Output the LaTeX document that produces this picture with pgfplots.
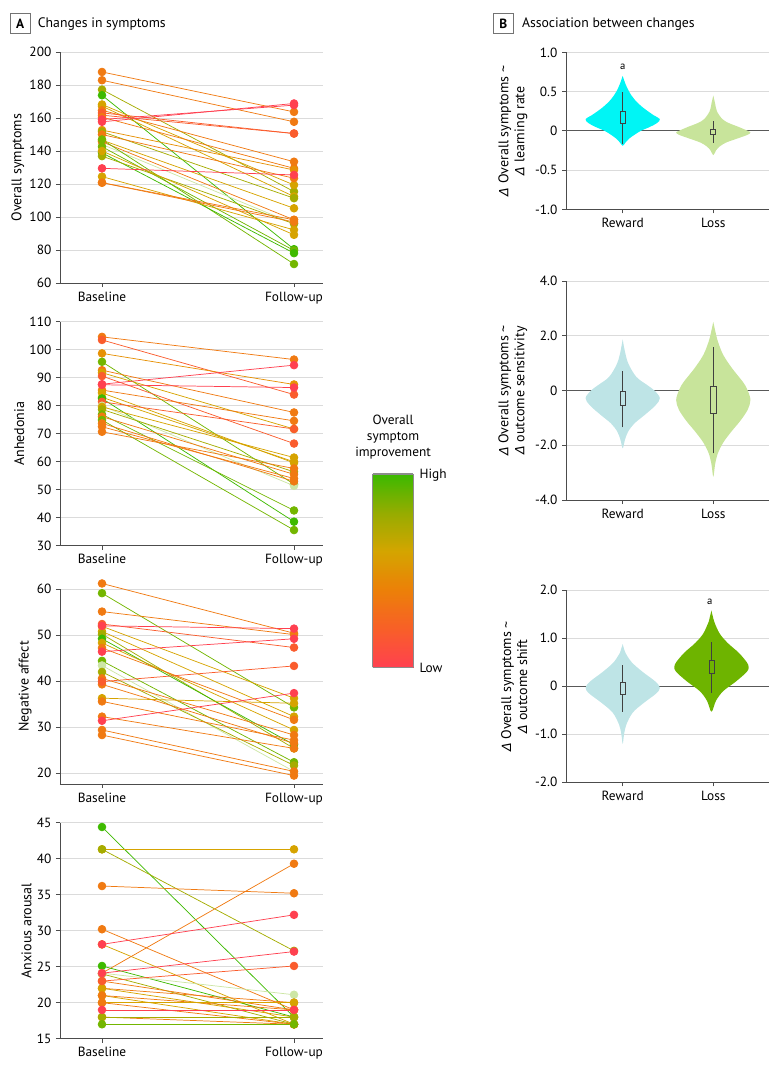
\documentclass[border=0pt]{standalone}
\usepackage{pgfplots}
\pgfplotsset{compat=1.18}
\usepackage{fontspec}
\setmainfont{PT Sans}
\newfontfamily\dvs{DejaVu Sans}
\newcommand\D{{\dvs\itshape\fontsize{9.5}{11}\selectfont Δ}}
\definecolor{cR}{RGB}{255,64,80}
\definecolor{cRO}{RGB}{250,92,45}
\definecolor{cO}{RGB}{240,122,18}
\definecolor{cOG}{RGB}{230,145,5}
\definecolor{cG}{RGB}{214,163,0}
\definecolor{cOl}{RGB}{165,172,0}
\definecolor{cL}{RGB}{115,182,0}
\definecolor{cGr}{RGB}{62,186,0}
\definecolor{cP}{RGB}{205,230,165}
\definecolor{vCyan}{RGB}{0,245,245}
\definecolor{vBlue}{RGB}{190,228,230}
\definecolor{vLG}{RGB}{200,228,155}
\definecolor{vGreen}{RGB}{110,180,0}
\newcommand\pr[3]{\addplot[color=#1, line width=0.55pt, mark=*, mark size=2.9pt, mark options={draw=none, fill=#1}] coordinates {(0,#2) (1,#3)};}
\pgfplotsset{
  common/.style={
    scale only axis, anchor=south west,
    axis x line*=bottom, axis y line*=left,
    axis line style={-, draw=black!70, line width=0.6pt},
    tick style={draw=black!70, line width=0.6pt},
    tick align=outside, major tick length=3pt,
    ymajorgrids, grid style={draw=black!14, line width=0.7pt},
    tick label style={font=\fontsize{10}{12}\selectfont},
    label style={font=\fontsize{10.5}{12}\selectfont},
    /pgf/number format/assume math mode=true,
    clip=false,
  },
  Astyle/.style={common, width=197.25pt,
    xmin=-0.21875, xmax=1.151, ylabel shift=-3pt,
    xtick={0,1}, xticklabels={Baseline,Follow-up}},
  Bstyle/.style={common, width=152.25pt,
    xmin=-0.626, xmax=1.615,
    xtick={0,1}, xticklabels={Reward,Loss},
    ylabel style={align=center}, ylabel shift=-7pt,
    extra y ticks={0}, extra y tick labels={0},
    extra y tick style={major grid style={draw=black!65, line width=0.8pt}}},
  colormap={improve}{rgb255=(255,64,80) rgb255=(248,95,40) rgb255=(236,128,8) rgb255=(212,165,0) rgb255=(150,172,0) rgb255=(60,185,0)},
}
\begin{document}
\begin{tikzpicture}
\path[use as bounding box] (0,0) rectangle (585pt,-804pt);
% panel titles
\node[draw=black!55, line width=0.6pt, minimum width=15pt, minimum height=15pt, inner sep=0pt, font=\bfseries\fontsize{10}{12}\selectfont] at (15.2pt,-17.5pt) {A};
\node[anchor=west, inner sep=0pt, font=\fontsize{10.3}{12}\selectfont] at (28.2pt,-18pt) {Changes in symptoms};
\node[draw=black!55, line width=0.6pt, minimum width=15pt, minimum height=15pt, inner sep=0pt, font=\bfseries\fontsize{10}{12}\selectfont] at (377.5pt,-17.8pt) {B};
\node[anchor=west, inner sep=0pt, font=\fontsize{10.3}{12}\selectfont] at (391.3pt,-18pt) {Association between changes};

% ---------- A1 Overall symptoms
\begin{axis}[Astyle, at={(45pt,-212.25pt)}, height=173.25pt,
  ymin=60, ymax=200, ytick={60,80,...,200}, ylabel={Overall symptoms}]
\pr{cO}{187.9}{163.7}
\pr{cO}{182.9}{157.7}
\pr{cOl}{177.2}{115.4}
\pr{cGr}{173.8}{80.5}
\pr{cG}{168.2}{119.4}
\pr{cG}{167.2}{112.4}
\pr{cO}{164.7}{133.5}
\pr{cRO}{163.1}{150.6}
\pr{cRO}{161.7}{150.6}
\pr{cO}{160.5}{129.5}
\pr{cOG}{152.7}{128.5}
\pr{cOl}{151.7}{111.4}
\pr{cO}{150.0}{123.5}
\pr{cP}{144.0}{95.9}
\pr{cG}{146.6}{105.3}
\pr{cO}{145.6}{98.3}
\pr{cL}{147.0}{71.5}
\pr{cL}{142.6}{79.7}
\pr{cGr}{138.9}{78.1}
\pr{cOl}{136.9}{95.9}
\pr{cG}{140.0}{89.2}
\pr{cG}{124.5}{92.2}
\pr{cO}{120.8}{98.3}
\pr{cO}{120.8}{97.0}
\pr{cR}{129.5}{125.5}
\pr{cR}{159.1}{167.8}
\pr{cR}{157.7}{168.8}
\end{axis}

% ---------- A2 Anhedonia
\begin{axis}[Astyle, at={(45pt,-409.3pt)}, height=168pt,
  ymin=30, ymax=110, ytick={30,40,...,110}, ylabel={Anhedonia}]
\pr{cO}{104.6}{96.5}
\pr{cRO}{103.5}{84.0}
\pr{cOG}{98.7}{87.6}
\pr{cL}{95.7}{52.0}
\pr{cO}{92.7}{77.6}
\pr{cG}{91.8}{71.7}
\pr{cRO}{90.6}{66.5}
\pr{cO}{85.6}{74.6}
\pr{cG}{84.6}{59.6}
\pr{cG}{83.0}{60.0}
\pr{cGr}{82.6}{38.6}
\pr{cRO}{81.4}{71.7}
\pr{cP}{80.0}{51.4}
\pr{cG}{79.6}{61.5}
\pr{cOl}{78.7}{56.4}
\pr{cL}{76.9}{42.6}
\pr{cO}{76.1}{55.5}
\pr{cL}{74.9}{35.6}
\pr{cO}{73.7}{53.0}
\pr{cO}{72.5}{54.0}
\pr{cO}{70.7}{57.6}
\pr{cR}{87.5}{86.5}
\pr{cR}{87.7}{94.5}
\end{axis}

% ---------- A3 Negative affect
\begin{axis}[Astyle, at={(45pt,-588pt)}, height=146.25pt,
  ymin=17.67, ymax=60, ytick={20,30,...,60}, ylabel={Negative affect}]
\pr{cO}{61.2}{50.4}
\pr{cL}{59.1}{34.3}
\pr{cO}{55.1}{50.1}
\pr{cRO}{52.4}{47.3}
\pr{cG}{51.9}{36.3}
\pr{cG}{50.8}{32.3}
\pr{cOl}{50.2}{25.4}
\pr{cGr}{49.2}{26.2}
\pr{cG}{48.3}{29.4}
\pr{cO}{47.2}{31.6}
\pr{cL}{44.4}{22.4}
\pr{cP}{43.4}{20.4}
\pr{cOl}{42.0}{21.7}
\pr{cO}{40.6}{28.3}
\pr{cO}{39.3}{26.5}
\pr{cG}{36.3}{35.2}
\pr{cO}{35.6}{27.2}
\pr{cO}{32.3}{25.4}
\pr{cO}{29.4}{20.4}
\pr{cO}{28.3}{19.5}
\pr{cRO}{39.9}{43.3}
\pr{cR}{46.4}{49.2}
\pr{cR}{31.4}{37.4}
\pr{cR}{52.0}{51.4}
\end{axis}

% ---------- A4 Anxious arousal
\begin{axis}[Astyle, at={(45pt,-779pt)}, height=162pt,
  ymin=15, ymax=45, ytick={15,20,...,45}, ylabel={Anxious arousal}]
\pr{cGr}{44.4}{18.0}
\pr{cG}{41.3}{41.3}
\pr{cOl}{41.3}{27.2}
\pr{cO}{36.2}{35.2}
\pr{cO}{30.2}{19.0}
\pr{cG}{28.1}{17.0}
\pr{cO}{24.1}{39.3}
\pr{cGr}{25.1}{18.0}
\pr{cOl}{24.0}{17.0}
\pr{cP}{24.1}{21.1}
\pr{cO}{23.0}{19.0}
\pr{cO}{22.0}{20.0}
\pr{cG}{22.0}{18.0}
\pr{cG}{21.0}{17.0}
\pr{cO}{21.0}{19.0}
\pr{cG}{20.0}{20.0}
\pr{cO}{20.0}{17.0}
\pr{cO}{18.0}{17.0}
\pr{cOl}{18.0}{18.0}
\pr{cL}{17.0}{17.0}
\pr{cRO}{23.0}{25.1}
\pr{cR}{28.1}{32.2}
\pr{cR}{24.1}{27.1}
\pr{cR}{19.0}{19.0}
\end{axis}

% ---------- colour bar
\begin{axis}[at={(279.5pt,-500.5pt)}, anchor=south west, scale only axis,
  width=30.45pt, height=145pt, xmin=0, xmax=1, ymin=0, ymax=1,
  xtick=\empty, ytick=\empty, view={0}{90}, colormap name=improve,
  axis line style={draw=black!45, line width=0.8pt}]
\addplot3[surf, shader=interp, mesh/cols=2, point meta=y] coordinates {
(0,0,0) (1,0,0) (0,0.05,0.05) (1,0.05,0.05) (0,0.1,0.1) (1,0.1,0.1)
(0,0.15,0.15) (1,0.15,0.15) (0,0.2,0.2) (1,0.2,0.2) (0,0.25,0.25) (1,0.25,0.25)
(0,0.3,0.3) (1,0.3,0.3) (0,0.35,0.35) (1,0.35,0.35) (0,0.4,0.4) (1,0.4,0.4)
(0,0.45,0.45) (1,0.45,0.45) (0,0.5,0.5) (1,0.5,0.5) (0,0.55,0.55) (1,0.55,0.55)
(0,0.6,0.6) (1,0.6,0.6) (0,0.65,0.65) (1,0.65,0.65) (0,0.7,0.7) (1,0.7,0.7)
(0,0.75,0.75) (1,0.75,0.75) (0,0.8,0.8) (1,0.8,0.8) (0,0.85,0.85) (1,0.85,0.85)
(0,0.9,0.9) (1,0.9,0.9) (0,0.95,0.95) (1,0.95,0.95) (0,1,1) (1,1,1)};
\end{axis}
\node[align=center, font=\fontsize{10}{12}\selectfont] at (294.8pt,-328pt) {Overall\\symptom\\improvement};
\node[anchor=west, inner sep=0pt, font=\fontsize{10}{12}\selectfont] at (314.5pt,-356.5pt) {High};
\node[anchor=west, inner sep=0pt, font=\fontsize{10}{12}\selectfont] at (314.5pt,-501pt) {Low};

% ---------- B1 learning rate
\begin{axis}[Bstyle, at={(424.5pt,-157pt)}, height=117.75pt,
  ymin=-1, ymax=1, ytick={-1,-0.5,0.5,1}, yticklabels={-1.0,-0.5,0.5,1.0},
  ylabel={\D\ Overall symptoms \textasciitilde\\\D\ learning rate}]
\addplot[fill=vCyan, draw=none, smooth, tension=0.55] coordinates {
(0,0.70) (0.03,0.6) (0.07,0.5) (0.13,0.4) (0.22,0.3) (0.34,0.2) (0.41,0.15) (0.38,0.1) (0.30,0.05) (0.20,0) (0.13,-0.05) (0.07,-0.1) (0.03,-0.15) (0,-0.19)
(-0.03,-0.15) (-0.07,-0.1) (-0.13,-0.05) (-0.20,0) (-0.30,0.05) (-0.38,0.1) (-0.41,0.15) (-0.34,0.2) (-0.22,0.3) (-0.13,0.4) (-0.07,0.5) (-0.03,0.6)} -- cycle;
\addplot[fill=vLG, draw=none, smooth, tension=0.55] coordinates {
(1,0.45) (1.02,0.35) (1.04,0.25) (1.10,0.15) (1.17,0.10) (1.28,0.05) (1.38,0.0) (1.41,-0.02) (1.38,-0.05) (1.26,-0.10) (1.14,-0.15) (1.07,-0.20) (1.03,-0.25) (1,-0.31)
(0.97,-0.25) (0.93,-0.20) (0.86,-0.15) (0.74,-0.10) (0.62,-0.05) (0.59,-0.02) (0.62,0.0) (0.72,0.05) (0.83,0.10) (0.90,0.15) (0.96,0.25) (0.98,0.35)} -- cycle;
\addplot[black!75, line width=0.6pt] coordinates {(0,-0.17) (0,0.09)};
\addplot[black!75, line width=0.6pt] coordinates {(0,0.25) (0,0.50)};
\addplot[black!75, line width=0.6pt] coordinates {(-0.028,0.09) (0.028,0.09) (0.028,0.25) (-0.028,0.25) (-0.028,0.09)};
\addplot[black!75, line width=0.6pt] coordinates {(1,-0.15) (1,-0.05)};
\addplot[black!75, line width=0.6pt] coordinates {(1,0.02) (1,0.12)};
\addplot[black!75, line width=0.6pt] coordinates {(0.972,-0.05) (1.028,-0.05) (1.028,0.02) (0.972,0.02) (0.972,-0.05)};
\node[font=\fontsize{8}{9}\selectfont] at (axis cs:0,0.82) {a};
\end{axis}

% ---------- B2 outcome sensitivity
\begin{axis}[Bstyle, at={(424.5pt,-375pt)}, height=164.25pt,
  ymin=-4, ymax=4, ytick={-4,-2,2,4}, yticklabels={-4.0,-2.0,2.0,4.0},
  ylabel={\D\ Overall symptoms \textasciitilde\\\D\ outcome sensitivity}]
\addplot[fill=vBlue, draw=none, smooth, tension=0.55] coordinates {
(0,1.87) (0.02,1.5) (0.06,1.0) (0.15,0.5) (0.27,0.2) (0.35,0.0) (0.41,-0.28) (0.36,-0.55) (0.24,-0.9) (0.13,-1.2) (0.06,-1.5) (0.025,-1.8) (0,-2.11)
(-0.025,-1.8) (-0.06,-1.5) (-0.13,-1.2) (-0.24,-0.9) (-0.36,-0.55) (-0.41,-0.28) (-0.35,0.0) (-0.27,0.2) (-0.15,0.5) (-0.06,1.0) (-0.02,1.5)} -- cycle;
\addplot[fill=vLG, draw=none, smooth, tension=0.55] coordinates {
(1,2.51) (1.02,2.2) (1.05,1.8) (1.11,1.3) (1.21,0.8) (1.33,0.3) (1.38,0.0) (1.41,-0.35) (1.38,-0.7) (1.30,-1.1) (1.20,-1.5) (1.11,-1.9) (1.05,-2.3) (1.02,-2.7) (1,-3.15)
(0.98,-2.7) (0.95,-2.3) (0.89,-1.9) (0.80,-1.5) (0.70,-1.1) (0.62,-0.7) (0.59,-0.35) (0.62,0.0) (0.67,0.3) (0.79,0.8) (0.89,1.3) (0.95,1.8) (0.98,2.2)} -- cycle;
\addplot[black!75, line width=0.6pt] coordinates {(0,-1.35) (0,-0.55)};
\addplot[black!75, line width=0.6pt] coordinates {(0,-0.05) (0,0.72)};
\addplot[black!75, line width=0.6pt] coordinates {(-0.03,-0.55) (0.03,-0.55) (0.03,-0.05) (-0.03,-0.05) (-0.03,-0.55)};
\addplot[black!75, line width=0.6pt] coordinates {(1,-2.3) (1,-0.85)};
\addplot[black!75, line width=0.6pt] coordinates {(1,0.15) (1,1.6)};
\addplot[black!75, line width=0.6pt] coordinates {(0.97,-0.85) (1.03,-0.85) (1.03,0.15) (0.97,0.15) (0.97,-0.85)};
\end{axis}

% ---------- B3 outcome shift
\begin{axis}[Bstyle, at={(424.5pt,-586.7pt)}, height=144pt,
  ymin=-2, ymax=2, ytick={-2,-1,1,2}, yticklabels={-2.0,-1.0,1.0,2.0},
  ylabel={\D\ Overall symptoms \textasciitilde\\\D\ outcome shift}]
\addplot[fill=vBlue, draw=none, smooth, tension=0.55] coordinates {
(0,0.88) (0.03,0.7) (0.10,0.5) (0.22,0.3) (0.36,0.1) (0.41,-0.03) (0.37,-0.15) (0.23,-0.35) (0.11,-0.55) (0.04,-0.8) (0.015,-1.0) (0,-1.2)
(-0.015,-1.0) (-0.04,-0.8) (-0.11,-0.55) (-0.23,-0.35) (-0.37,-0.15) (-0.41,-0.03) (-0.36,0.1) (-0.22,0.3) (-0.10,0.5) (-0.03,0.7)} -- cycle;
\addplot[fill=vGreen, draw=none, smooth, tension=0.55] coordinates {
(0.98,1.58) (1.01,1.35) (1.07,1.1) (1.16,0.9) (1.28,0.7) (1.37,0.5) (1.39,0.4) (1.37,0.3) (1.25,0.1) (1.11,-0.1) (1.03,-0.3) (0.98,-0.53)
(0.93,-0.3) (0.85,-0.1) (0.71,0.1) (0.59,0.3) (0.57,0.4) (0.59,0.5) (0.68,0.7) (0.80,0.9) (0.89,1.1) (0.95,1.35)} -- cycle;
\addplot[black!75, line width=0.6pt] coordinates {(0,-0.53) (0,-0.17)};
\addplot[black!75, line width=0.6pt] coordinates {(0,0.08) (0,0.45)};
\addplot[black!75, line width=0.6pt] coordinates {(-0.028,-0.17) (0.028,-0.17) (0.028,0.08) (-0.028,0.08) (-0.028,-0.17)};
\addplot[black!75, line width=0.6pt] coordinates {(0.98,-0.13) (0.98,0.27)};
\addplot[black!75, line width=0.6pt] coordinates {(0.98,0.53) (0.98,0.93)};
\addplot[black!75, line width=0.6pt] coordinates {(0.952,0.27) (1.008,0.27) (1.008,0.53) (0.952,0.53) (0.952,0.27)};
\node[font=\fontsize{8}{9}\selectfont] at (axis cs:0.96,1.75) {a};
\end{axis}
\end{tikzpicture}
\end{document}
